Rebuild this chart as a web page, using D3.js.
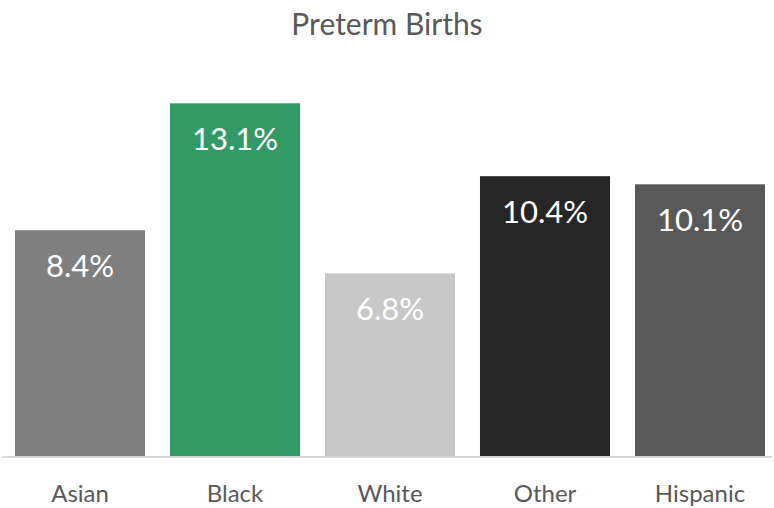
<!DOCTYPE html>
<html>
<head>
<meta charset="utf-8">
<script src="https://cdn.jsdelivr.net/npm/d3@7"></script>
<style>
  body { margin: 0; background: #fff; }
  svg text { font-family: Lato, "Open Sans", sans-serif; }
</style>
</head>
<body>
<div id="chart"></div>
<script>
var categories = ["Asian", "Black", "White", "Other", "Hispanic"];
var values = [8.4, 13.1, 6.8, 10.4, 10.1];
var colors = ["#7f7f7f", "#339966", "#c8c8c8", "#262626", "#595959"];
var title = "Preterm Births";

var width = 774, height = 508;
var margin = { top: 79, right: 0, bottom: 51, left: 2.5 };
var baseY = height - margin.bottom;

var svg = d3.select("#chart").append("svg")
    .attr("width", width)
    .attr("height", height);

//Scales
var xScale = d3.scaleBand()
    .domain(categories)
    .range([margin.left, margin.left + 775])
    .paddingInner(0.161)
    .paddingOuter(0.0805);

var yScale = d3.scaleLinear()
    .domain([0, 14])
    .range([baseY, margin.top]);

//Title
svg.append("text")
    .attr("x", width / 2)
    .attr("y", 35)
    .attr("text-anchor", "middle")
    .attr("fill", "#595959")
    .style("font-size", "30px")
    .text(title);

//Bars
svg.selectAll(".bar")
    .data(categories)
    .enter().append("rect")
    .attr("class", "bar")
    .attr("x", d => xScale(d))
    .attr("y", (d, i) => yScale(values[i]))
    .attr("width", xScale.bandwidth())
    .attr("height", (d, i) => baseY - yScale(values[i]))
    .attr("fill", (d, i) => colors[i]);

//Value labels
svg.selectAll(".val")
    .data(categories)
    .enter().append("text")
    .attr("class", "val")
    .attr("x", d => xScale(d) + xScale.bandwidth() / 2)
    .attr("y", (d, i) => yScale(values[i]) + 47)
    .attr("text-anchor", "middle")
    .attr("fill", "#ffffff")
    .style("font-size", "31px")
    .text((d, i) => values[i].toFixed(1) + "%");

//X axis
var xAxis = svg.append("g")
    .attr("transform", "translate(0," + baseY + ")")
    .call(d3.axisBottom(xScale).tickSize(0).tickPadding(28));
xAxis.select(".domain")
    .attr("stroke", "#d9d9d9")
    .attr("stroke-width", 2)
    .attr("d", "M2,0H772");
xAxis.selectAll("text")
    .attr("fill", "#595959")
    .style("font-size", "24px")
    .style("font-family", "Lato, 'Open Sans', sans-serif");
</script>
</body>
</html>
